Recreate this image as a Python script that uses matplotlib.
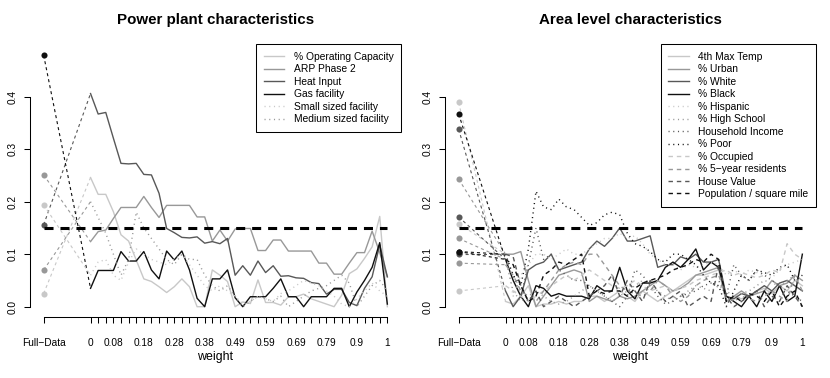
import matplotlib
matplotlib.use('Agg')
import matplotlib.pyplot as plt
from matplotlib.lines import Line2D
import numpy as np

plt.rcParams['font.family'] = ['Liberation Sans', 'DejaVu Sans']
plt.rcParams['lines.scale_dashes'] = False

# ---------------- data ----------------
weights = np.linspace(0, 1, 40)
tick_label_idx = [0, 3, 7, 11, 15, 19, 23, 27, 31, 35, 39]
tick_labels = ["0", "0.08", "0.18", "0.28", "0.38", "0.49", "0.59", "0.69", "0.79", "0.9", "1"]
full_label = "Full\u2212Data"
threshold = 0.15

# Power plant characteristics
pp_names = ["% Operating Capacity", "ARP Phase 2", "Heat Input", "Gas facility",
            "Small sized facility", "Medium sized facility"]
pp_full = [0.025, 0.251, 0.156, 0.479, 0.194, 0.070]
op_cap = [0.246, 0.214, 0.214, 0.181, 0.137, 0.125, 0.089, 0.053, 0.048, 0.038,
          0.027, 0.038, 0.053, 0.038, 0.000, 0.000, 0.070, 0.060, 0.048, 0.000,
          0.009, 0.006, 0.051, 0.008, 0.008, 0.003, 0.019, 0.019, 0.024, 0.015,
          0.010, 0.005, 0.000, 0.022, 0.063, 0.072, 0.092, 0.114, 0.172, 0.000]
arp = [0.124, 0.143, 0.146, 0.168, 0.189, 0.189, 0.189, 0.210, 0.189, 0.170,
       0.193, 0.193, 0.193, 0.193, 0.171, 0.171, 0.125, 0.146, 0.125, 0.148,
       0.149, 0.149, 0.107, 0.107, 0.127, 0.127, 0.106, 0.106, 0.106, 0.106,
       0.083, 0.083, 0.062, 0.062, 0.083, 0.103, 0.103, 0.144, 0.103, 0.057]
heat = [0.406, 0.367, 0.370, 0.321, 0.273, 0.272, 0.273, 0.252, 0.251, 0.216,
        0.149, 0.141, 0.132, 0.131, 0.133, 0.121, 0.124, 0.120, 0.130, 0.060,
        0.078, 0.060, 0.087, 0.065, 0.078, 0.058, 0.059, 0.055, 0.054, 0.046,
        0.044, 0.024, 0.033, 0.033, 0.008, 0.002, 0.035, 0.057, 0.118, 0.057]
gas = [0.035, 0.069, 0.069, 0.069, 0.105, 0.087, 0.087, 0.105, 0.070, 0.053,
       0.106, 0.089, 0.106, 0.070, 0.016, 0.000, 0.053, 0.053, 0.070, 0.017,
       0.000, 0.019, 0.019, 0.019, 0.035, 0.053, 0.019, 0.019, 0.000, 0.019,
       0.019, 0.019, 0.035, 0.035, 0.000, 0.028, 0.050, 0.075, 0.122, 0.005]
small = [0.060, 0.085, 0.090, 0.060, 0.050, 0.085, 0.110, 0.100, 0.090, 0.085,
         0.080, 0.090, 0.100, 0.080, 0.060, 0.040, 0.030, 0.040, 0.030, 0.020,
         0.005, 0.010, 0.020, 0.015, 0.010, 0.025, 0.030, 0.040, 0.050, 0.045,
         0.040, 0.030, 0.020, 0.005, 0.000, 0.015, 0.030, 0.045, 0.030, 0.020]
medium = [0.200, 0.170, 0.140, 0.100, 0.060, 0.090, 0.180, 0.150, 0.130, 0.110,
          0.090, 0.080, 0.100, 0.090, 0.090, 0.060, 0.040, 0.030, 0.040, 0.020,
          0.000, 0.010, 0.020, 0.015, 0.010, 0.020, 0.000, 0.010, 0.020, 0.030,
          0.035, 0.040, 0.050, 0.060, 0.045, 0.000, 0.020, 0.040, 0.050, 0.030]
pp_series = [op_cap, arp, heat, gas, small, medium]

# Area level characteristics
al_names = ["4th Max Temp", "% Urban", "% White", "% Black", "% Hispanic",
            "% High School", "Household Income", "% Poor", "% Occupied",
            "% 5\u2212year residents", "House Value", "Population / square mile"]
al_full = [0.389, 0.243, 0.338, 0.367, 0.158, 0.130, 0.171, 0.105, 0.030,
           0.083, 0.100, 0.105]
max_temp = [0.010, 0.005, 0.020, 0.040, 0.000, 0.005, 0.005, 0.010, 0.005, 0.010,
            0.010, 0.020, 0.020, 0.010, 0.020, 0.030, 0.020, 0.010, 0.030, 0.020,
            0.010, 0.020, 0.030, 0.040, 0.050, 0.060, 0.060, 0.065, 0.070, 0.010,
            0.020, 0.015, 0.020, 0.030, 0.035, 0.025, 0.040, 0.030, 0.050, 0.040]
urban = [0.100, 0.100, 0.105, 0.050, 0.000, 0.020, 0.040, 0.060, 0.065, 0.070,
         0.065, 0.010, 0.020, 0.015, 0.010, 0.020, 0.015, 0.020, 0.030, 0.040,
         0.050, 0.040, 0.030, 0.035, 0.045, 0.060, 0.065, 0.070, 0.075, 0.010,
         0.020, 0.030, 0.020, 0.025, 0.030, 0.050, 0.040, 0.045, 0.060, 0.050]
white = [0.030, 0.000, 0.020, 0.070, 0.080, 0.085, 0.100, 0.070, 0.075, 0.080,
         0.085, 0.110, 0.125, 0.115, 0.130, 0.150, 0.125, 0.125, 0.130, 0.135,
         0.075, 0.080, 0.080, 0.095, 0.090, 0.100, 0.085, 0.085, 0.090, 0.020,
         0.015, 0.025, 0.020, 0.030, 0.040, 0.030, 0.045, 0.050, 0.040, 0.030]
black = [0.090, 0.050, 0.020, 0.000, 0.040, 0.035, 0.020, 0.025, 0.020, 0.020,
         0.020, 0.015, 0.040, 0.030, 0.030, 0.075, 0.030, 0.015, 0.045, 0.045,
         0.050, 0.075, 0.085, 0.075, 0.090, 0.110, 0.070, 0.085, 0.075, 0.020,
         0.010, 0.000, 0.020, 0.000, 0.030, 0.010, 0.040, 0.010, 0.020, 0.100]
hispanic = [0.100, 0.020, 0.060, 0.080, 0.100, 0.100, 0.090, 0.100, 0.110, 0.100,
            0.100, 0.110, 0.120, 0.130, 0.130, 0.140, 0.130, 0.135, 0.120, 0.100,
            0.090, 0.080, 0.080, 0.070, 0.080, 0.075, 0.080, 0.085, 0.080, 0.060,
            0.070, 0.060, 0.070, 0.065, 0.060, 0.055, 0.070, 0.080, 0.085, 0.090]
high_school = [0.090, 0.030, 0.010, 0.020, 0.030, 0.020, 0.010, 0.005, 0.010, 0.020,
               0.030, 0.040, 0.030, 0.020, 0.010, 0.020, 0.030, 0.040, 0.050, 0.040,
               0.030, 0.020, 0.010, 0.020, 0.030, 0.040, 0.035, 0.030, 0.040, 0.030,
               0.020, 0.025, 0.030, 0.040, 0.050, 0.045, 0.040, 0.050, 0.060, 0.050]
income = [0.090, 0.060, 0.020, 0.080, 0.150, 0.090, 0.100, 0.070, 0.060, 0.050,
          0.050, 0.040, 0.030, 0.020, 0.010, 0.000, 0.020, 0.070, 0.060, 0.040,
          0.020, 0.005, 0.010, 0.020, 0.025, 0.030, 0.040, 0.045, 0.050, 0.020,
          0.080, 0.060, 0.050, 0.070, 0.060, 0.050, 0.040, 0.030, 0.020, 0.010]
poor = [0.100, 0.060, 0.040, 0.110, 0.220, 0.190, 0.185, 0.205, 0.190, 0.185,
        0.170, 0.155, 0.160, 0.175, 0.180, 0.175, 0.140, 0.120, 0.115, 0.105,
        0.090, 0.085, 0.100, 0.100, 0.090, 0.080, 0.060, 0.045, 0.040, 0.000,
        0.030, 0.060, 0.050, 0.070, 0.065, 0.060, 0.075, 0.080, 0.050, 0.060]
occupied = [0.040, 0.030, 0.020, 0.010, 0.020, 0.030, 0.040, 0.050, 0.060, 0.050,
            0.060, 0.070, 0.060, 0.050, 0.040, 0.035, 0.040, 0.050, 0.040, 0.030,
            0.035, 0.040, 0.030, 0.035, 0.040, 0.050, 0.055, 0.060, 0.065, 0.070,
            0.060, 0.065, 0.060, 0.055, 0.060, 0.070, 0.065, 0.120, 0.100, 0.090]
five_year = [0.080, 0.060, 0.030, 0.020, 0.010, 0.030, 0.050, 0.070, 0.080, 0.085,
             0.080, 0.100, 0.100, 0.080, 0.060, 0.040, 0.030, 0.025, 0.020, 0.030,
             0.050, 0.040, 0.020, 0.010, 0.020, 0.040, 0.050, 0.055, 0.060, 0.020,
             0.010, 0.020, 0.015, 0.010, 0.020, 0.030, 0.020, 0.010, 0.060, 0.030]
house_value = [0.100, 0.095, 0.040, 0.010, 0.030, 0.000, 0.010, 0.020, 0.010, 0.000,
               0.010, 0.020, 0.030, 0.040, 0.060, 0.020, 0.050, 0.030, 0.010, 0.050,
               0.030, 0.010, 0.020, 0.030, 0.000, 0.010, 0.020, 0.010, 0.080, 0.020,
               0.000, 0.010, 0.020, 0.030, 0.000, 0.020, 0.010, 0.040, 0.020, 0.000]
population = [0.090, 0.080, 0.040, 0.010, 0.020, 0.060, 0.070, 0.085, 0.080, 0.090,
              0.100, 0.020, 0.030, 0.025, 0.030, 0.030, 0.020, 0.035, 0.045, 0.050,
              0.055, 0.060, 0.070, 0.075, 0.080, 0.090, 0.085, 0.100, 0.090, 0.010,
              0.020, 0.010, 0.025, 0.020, 0.010, 0.030, 0.000, 0.020, 0.030, 0.000]
al_series = [max_temp, urban, white, black, hispanic, high_school, income, poor,
             occupied, five_year, house_value, population]

# ---------------- styling ----------------
GREYS = ['#c8c8c8', '#989898', '#585858', '#101010']
SOLID = None
DOT = (0.8, 2.6)
DASH = (3.2, 2.8)
FULL_X = -0.158

pp_colors = [GREYS[0], GREYS[1], GREYS[2], GREYS[3], GREYS[0], GREYS[1]]
pp_styles = [SOLID, SOLID, SOLID, SOLID, DOT, DOT]
al_colors = GREYS * 3
al_styles = [SOLID] * 4 + [DOT] * 4 + [DASH] * 4

W, H = 830, 378
fig = plt.figure(figsize=(W / 100, H / 100), dpi=100)

def px_axes(x0, x1, y0, y1):
    return fig.add_axes([x0 / W, 1 - y1 / H, (x1 - x0) / W, (y1 - y0) / H])

def style_kw(st):
    if st is None:
        return dict(linestyle='-')
    return dict(linestyle=(0, st))

def panel(ax, names, full, series, colors, styles, title):
    for s, f, c, st in zip(series, full, colors, styles):
        ax.plot([FULL_X, weights[0]], [f, s[0]], color=c, lw=0.8,
                linestyle=(0, (2.2, 2.2)))
        ax.plot(weights, s, color=c, lw=1.0, **style_kw(st))
    for f, c in zip(full, colors):
        ax.plot([FULL_X], [f], 'o', color=c, ms=4.4, mec='none')
    ax.plot([FULL_X, 1], [threshold, threshold], color='black', lw=2.2,
            linestyle=(0, (6.5, 5.0)))
    ax.set_xlim(-0.204, 1.046)
    ax.set_ylim(-0.02, 0.50)
    for sp in ['top', 'right']:
        ax.spines[sp].set_visible(False)
    ax.spines['left'].set_bounds(0, 0.4)
    ax.spines['bottom'].set_bounds(FULL_X, 1)
    for sp in ['left', 'bottom']:
        ax.spines[sp].set_linewidth(0.75)
    xt = [FULL_X] + list(weights)
    lab = [full_label] + [''] * len(weights)
    for i, t in zip(tick_label_idx, tick_labels):
        lab[i + 1] = t
    ax.set_xticks(xt)
    ax.set_xticklabels(lab)
    ax.set_yticks([0, 0.1, 0.2, 0.3, 0.4])
    ax.set_yticklabels(["0.0", "0.1", "0.2", "0.3", "0.4"], rotation=90, va='center')
    ax.tick_params(axis='both', direction='out', length=4.3, width=0.75,
                   labelsize=7.3, colors='black')
    ax.tick_params(axis='x', pad=10.5)
    ax.tick_params(axis='y', pad=4.8)
    handles = [Line2D([0], [0], color=c, lw=1.0, **style_kw(st))
               for c, st in zip(colors, styles)]
    leg = ax.legend(handles, names, loc='upper right', bbox_to_anchor=(1, 1),
                    borderaxespad=0, fontsize=7.4, frameon=True, fancybox=False,
                    edgecolor='black', framealpha=1, labelspacing=0.24,
                    handlelength=2.0, handletextpad=0.9, borderpad=0.75)
    leg.get_frame().set_linewidth(0.75)
    bb = ax.get_position()
    fig.text(bb.x0 + bb.width / 2, 1 - 20 / H, title, ha='center', va='center',
             fontsize=10.9, fontweight='bold')
    fig.text(bb.x0 + bb.width / 2, 1 - 357 / H, 'weight', ha='center', va='center',
             fontsize=8.9)

ax1 = px_axes(30, 401, 44.2, 317.2)
ax2 = px_axes(445, 816, 44.2, 317.2)
panel(ax1, pp_names, pp_full, pp_series, pp_colors, pp_styles,
      'Power plant characteristics')
panel(ax2, al_names, al_full, al_series, al_colors, al_styles,
      'Area level characteristics')

fig.savefig('out.png', dpi=100)
